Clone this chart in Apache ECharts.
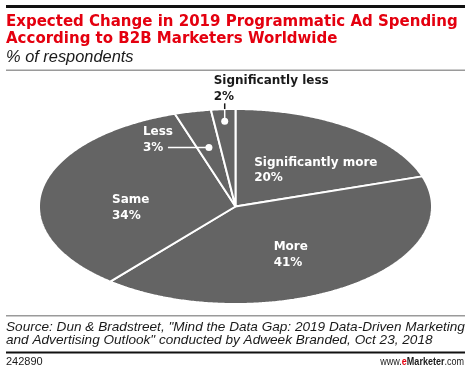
<!DOCTYPE html>
<html><head><meta charset="utf-8">
<script src="https://cdn.jsdelivr.net/npm/echarts@6/dist/echarts.min.js"></script>
<style>html,body{margin:0;padding:0;background:#fff}#c{width:471px;height:371px}</style>
</head><body><div id="c"></div>
<script>
// ---- data ----
const categories = ["Significantly more", "More", "Same", "Less", "Significantly less"];
const values = [20, 41, 34, 3, 2];
const titleLines = ["Expected Change in 2019 Programmatic Ad Spending", "According to B2B Marketers Worldwide"];
const subtitle = "% of respondents";
const sourceLines = ["Source: Dun & Bradstreet, \"Mind the Data Gap: 2019 Data-Driven Marketing", "and Advertising Outlook\" conducted by Adweek Branded, Oct 23, 2018"];
const chartId = "242890";

// ---- layout / style (not data) ----
const geo = { cx: 235.5, cy: 206.5, rx: 196.5, ry: 97.5 };
const sliceFill = '#646464';
const labelFont = 'bold 12px "DejaVu Sans"';
const labelLayout = [
  { r: 0.6, dx: 11, dy: 11, color: '#fff' },
  { r: 0.6, dx: -11, dy: 0, color: '#fff' },
  { r: 0.6, dx: 11, dy: 12.5, color: '#fff' },
  { r: 0.62, leader: 'left', len: 41, textGap: 25, color: '#fff' },
  { r: 0.875, leader: 'up', len: 18, color: '#1a1a1a' }
];

const total = values.reduce((a, b) => a + b, 0);
const starts = [];
let acc = 0;
values.forEach(v => { starts.push(acc); acc += v; });

function pt(frac, r) {
  const a = frac * 2 * Math.PI;
  return [geo.cx + r * geo.rx * Math.sin(a), geo.cy - r * geo.ry * Math.cos(a)];
}

function renderItem(params, api) {
  const i = params.dataIndex;
  const v = api.value(0);
  const s = starts[i] / total, e = (starts[i] + v) / total;
  const pts = [[geo.cx, geo.cy]];
  const n = Math.max(4, Math.ceil((e - s) * 720));
  for (let k = 0; k <= n; k++) pts.push(pt(s + (e - s) * k / n, 1));
  const children = [{
    type: 'polygon', shape: { points: pts },
    style: { fill: sliceFill, stroke: '#fff', lineWidth: 2, lineJoin: 'bevel' }
  }];
  const L = labelLayout[i];
  const mid = (s + e) / 2;
  const p = pt(mid, L.r);
  const txt = '{a|' + categories[i] + '}\n{a|' + v + '%}';
  const rich = { a: { align: 'left', font: labelFont, fill: L.color, lineHeight: 15.5 } };
  if (!L.leader) {
    children.push({ type: 'text', z2: 10, x: p[0] + L.dx, y: p[1] + L.dy,
      style: { text: txt, rich: rich, align: 'center', verticalAlign: 'middle', font: labelFont, fill: L.color } });
  } else if (L.leader === 'left') {
    children.push({ type: 'circle', z2: 10, shape: { cx: p[0], cy: p[1], r: 3.5 }, style: { fill: L.color } });
    children.push({ type: 'line', z2: 10, shape: { x1: p[0], y1: p[1], x2: p[0] - L.len, y2: p[1] }, style: { stroke: L.color, lineWidth: 1.5 } });
    children.push({ type: 'text', z2: 10, x: p[0] - L.len - L.textGap, y: p[1] + 7.75,
      style: { text: txt, rich: rich, align: 'left', verticalAlign: 'bottom', font: labelFont, fill: L.color } });
  } else {
    const dxE = (p[0] - geo.cx) / geo.rx;
    const edgeY = geo.cy - geo.ry * Math.sqrt(1 - dxE * dxE);
    children.push({ type: 'line', z2: 10, shape: { x1: p[0], y1: edgeY, x2: p[0], y2: p[1] - L.len }, style: { stroke: L.color, lineWidth: 1.5 } });
    children.push({ type: 'line', z2: 10, shape: { x1: p[0], y1: p[1], x2: p[0], y2: edgeY }, style: { stroke: '#fff', lineWidth: 1.5 } });
    children.push({ type: 'circle', z2: 10, shape: { cx: p[0], cy: p[1], r: 3.5 }, style: { fill: '#fff' } });
    children.push({ type: 'text', z2: 10, x: p[0] - 11, y: p[1] - L.len + 1,
      style: { text: txt, rich: rich, align: 'left', verticalAlign: 'bottom', font: labelFont, fill: L.color } });
  }
  return { type: 'group', children: children };
}

const chart = echarts.init(document.getElementById('c'), null, { renderer: 'canvas' });
chart.setOption({
  animation: false,
  backgroundColor: '#fff',
  graphic: [
    { type: 'rect', shape: { x: 6, y: 5, width: 459, height: 3 }, style: { fill: '#111' } },
    { type: 'text', x: 6, y: 13.5, style: { text: titleLines.join('\n'), font: 'bold 15px "DejaVu Sans"', fill: '#e4000f', lineHeight: 17, verticalAlign: 'top' } },
    { type: 'text', x: 6, y: 48.5, style: { text: subtitle, font: 'italic 16.4px "Liberation Sans"', fill: '#1a1a1a', lineHeight: 17, verticalAlign: 'top' } },
    { type: 'rect', shape: { x: 6, y: 69.5, width: 459, height: 1.5 }, style: { fill: '#9a9a9a' } },
    { type: 'rect', shape: { x: 6, y: 315, width: 459, height: 1.5 }, style: { fill: '#9a9a9a' } },
    { type: 'text', x: 6, y: 320.5, style: { text: sourceLines.join('\n'), font: 'italic 13.6px "Liberation Sans"', fill: '#1a1a1a', lineHeight: 13, verticalAlign: 'top' } },
    { type: 'rect', shape: { x: 6, y: 351.5, width: 459, height: 2 }, style: { fill: '#111' } },
    { type: 'text', x: 6, y: 361.5, style: { text: chartId, font: '11px "Liberation Sans"', fill: '#1a1a1a', verticalAlign: 'middle' } },
    { type: 'text', x: 464, y: 361.5, scaleX: 0.82, style: {
      text: '{n|www.}{e|e}{b|Marketer}{n|.com}', align: 'right', verticalAlign: 'middle',
      rich: { n: { font: '11px "Liberation Sans"', fill: '#1a1a1a' }, e: { font: 'bold 11px "Liberation Sans"', fill: '#e4000f' }, b: { font: 'bold 11px "Liberation Sans"', fill: '#1a1a1a' } } } }
  ],
  series: [{
    type: 'custom',
    coordinateSystem: 'none',
    data: values.map((v, i) => ({ name: categories[i], value: [v] })),
    renderItem: renderItem
  }]
});
</script></body></html>
